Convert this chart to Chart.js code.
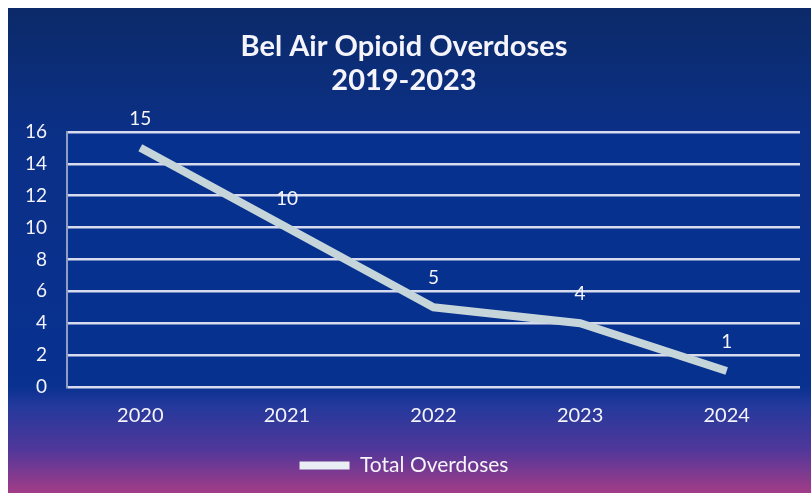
<!DOCTYPE html>
<html>
<head>
<meta charset="utf-8">
<script src="https://cdn.jsdelivr.net/npm/chart.js@4"></script>
<style>
  body { margin: 0; background: #fff; }
  #wrap { position: absolute; left: 8px; top: 8px; width: 803px; height: 485px; }
</style>
</head>
<body>
<div id="wrap"><canvas id="myChart"></canvas></div>
<script>
// years on the x axis
var years = ['2020', '2021', '2022', '2023', '2024']
// total overdoses per year
var overdoses = [15, 10, 5, 4, 1]
var seriesName = 'Total Overdoses'
var titleLines = ['Bel Air Opioid Overdoses', '2019-2023']

var lineColor = '#c6d5da'
var textColor = '#f4f4fa'
var fontName = 'Lato, "Open Sans", sans-serif'

// background: navy fading into purple / pink, plot area in blue
var background = {
    id: 'background',
    beforeDraw(chart) {
        var ctx = chart.ctx
        var h = chart.height
        var g = ctx.createLinearGradient(0, 0, 0, h)
        g.addColorStop(0, '#0c2a69')
        g.addColorStop(0.27, '#0b3088')
        g.addColorStop(0.78, '#083190')
        g.addColorStop(0.82, '#24399c')
        g.addColorStop(0.91, '#50379a')
        g.addColorStop(1, '#a33c87')
        ctx.save()
        ctx.fillStyle = g
        ctx.fillRect(0, 0, chart.width, h)
        var a = chart.chartArea
        ctx.fillStyle = '#06318e'
        ctx.fillRect(a.left, a.top, a.right - a.left, a.bottom - a.top)
        ctx.restore()
    }
}

// value labels above each point
var valueLabels = {
    id: 'valueLabels',
    afterDatasetsDraw(chart) {
        var ctx = chart.ctx
        var meta = chart.getDatasetMeta(0)
        ctx.save()
        ctx.fillStyle = textColor
        ctx.font = '19px ' + fontName
        ctx.textAlign = 'center'
        ctx.textBaseline = 'middle'
        meta.data.forEach((pt, i) => {
            ctx.fillText(overdoses[i], pt.x, pt.y - 29)
        })
        ctx.restore()
    }
}

const ctx = document.getElementById('myChart');

new Chart(ctx, {
    type: 'line',
    data: {
        labels: years,
        datasets: [{
            label: seriesName,
            data: overdoses,
            borderColor: lineColor,
            backgroundColor: lineColor,
            borderWidth: 8,
            pointRadius: 0,
            tension: 0
        }]
    },
    options: {
        responsive: true,
        maintainAspectRatio: false,
        animation: false,
        layout: { padding: { top: 0, right: 11, bottom: 7, left: 0 } },
        plugins: {
            title: {
                display: true,
                text: titleLines,
                color: textColor,
                font: { family: fontName, size: 29, weight: 'bold', lineHeight: 1.17 },
                padding: { top: 22, bottom: 34 }
            },
            legend: {
                position: 'bottom',
                labels: {
                    color: textColor,
                    font: { family: fontName, size: 21 },
                    boxWidth: 50,
                    boxHeight: 8,
                    padding: 10,
                    generateLabels(chart) {
                        var items = Chart.defaults.plugins.legend.labels.generateLabels(chart)
                        items.forEach(it => {
                            it.lineWidth = 0
                            it.fillStyle = '#e8eef4'
                        })
                        return items
                    }
                }
            },
            tooltip: { enabled: false }
        },
        scales: {
            x: {
                offset: true,
                grid: { display: false, drawTicks: false },
                border: { display: false },
                ticks: { color: textColor, font: { family: fontName, size: 20 }, padding: 17 },
                afterFit(scale) { scale.height = 58 }
            },
            y: {
                min: 0,
                max: 16,
                ticks: { stepSize: 2, color: textColor, font: { family: fontName, size: 19 }, padding: 20 },
                grid: { color: '#d7dbef', lineWidth: 2.5, drawTicks: false },
                border: { display: true, color: '#8f9cc4', width: 2 },
                afterFit(scale) { scale.width = 59 }
            }
        }
    },
    plugins: [background, valueLabels]
});
</script>
</body>
</html>
